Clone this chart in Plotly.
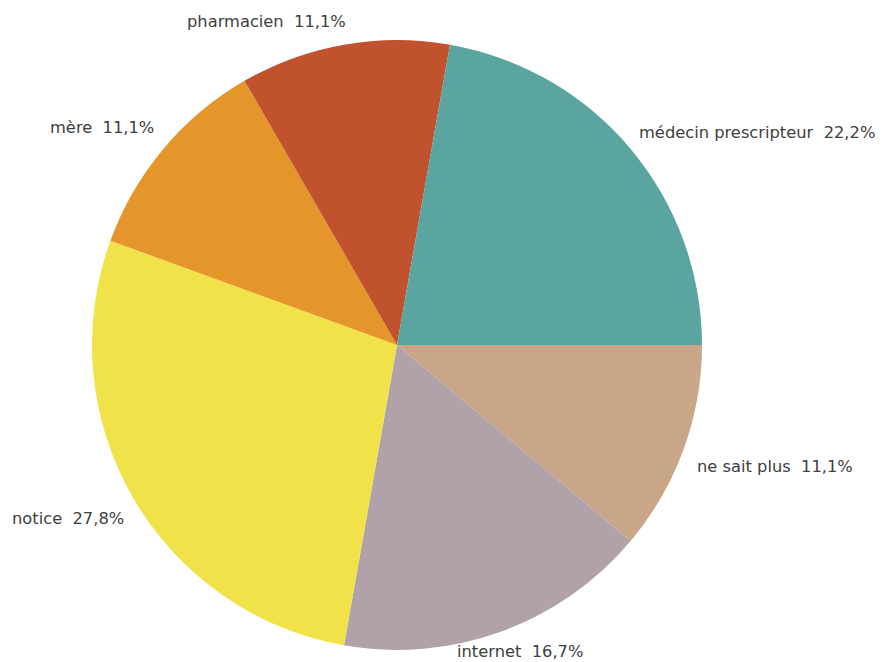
import plotly.graph_objects as go

labels = ["ne sait plus", "internet", "notice", "mère", "pharmacien", "médecin prescripteur"]
values = [2, 3, 5, 2, 2, 4]
pct_text = ["11,1%", "16,7%", "27,8%", "11,1%", "11,1%", "22,2%"]
colors = ["#C9A687", "#B0A2A8", "#F2E24A", "#E5962A", "#C0522E", "#5BA5A0"]

# label anchor positions (pixels, left edge / vertical center)
label_px = [(695, 466), (455, 651), (10, 518), (48, 128), (185, 21), (637, 133)]

W, H = 886, 662
fig = go.Figure(go.Pie(
    labels=labels, values=values, sort=False, direction="clockwise", rotation=90,
    marker=dict(colors=colors, line=dict(width=0)),
    textinfo="none", hoverinfo="label+percent",
    domain=dict(x=[92 / W, 702 / W], y=[1 - 650 / H, 1 - 40 / H]),
    showlegend=False,
))

for lab, p, (px, py) in zip(labels, pct_text, label_px):
    fig.add_annotation(
        x=px / W, y=1 - py / H, xref="paper", yref="paper",
        xanchor="left", yanchor="middle", showarrow=False,
        text=f"{lab}&nbsp;&nbsp;{p}",
        font=dict(family="DejaVu Sans, sans-serif", size=16.3, color="#404040"),
    )

fig.update_layout(
    width=W, height=H, margin=dict(l=0, r=0, t=0, b=0),
    paper_bgcolor="white", plot_bgcolor="white",
)
fig.write_html("out.html")
